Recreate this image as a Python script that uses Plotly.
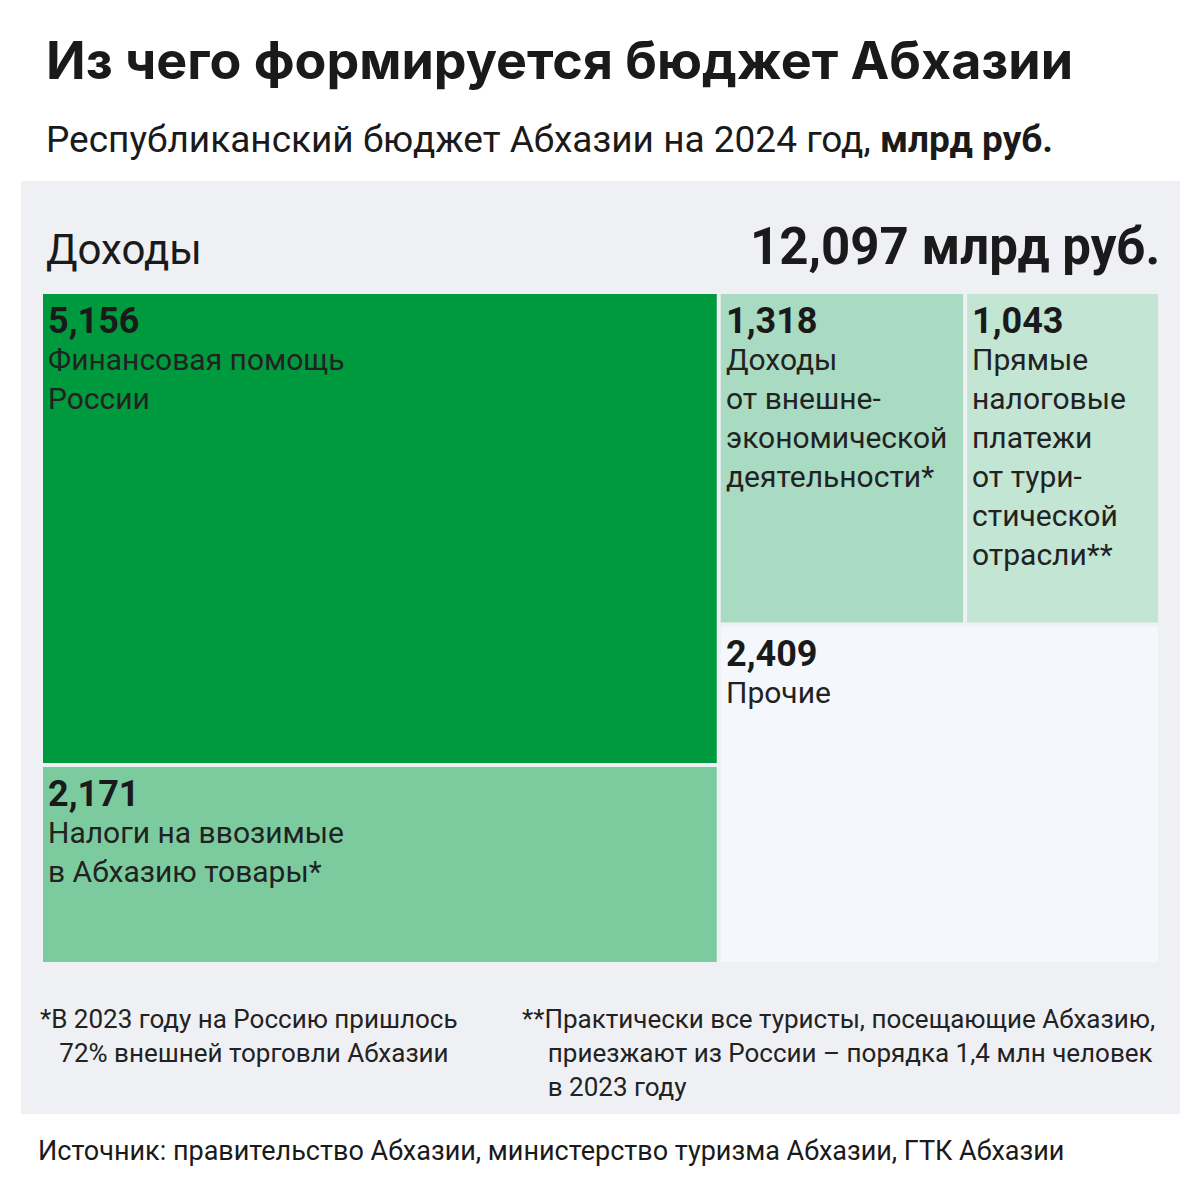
import plotly.graph_objects as go

labels = ["Финансовая помощь<br>России", "Налоги на ввозимые<br>в Абхазию товары*",
          "Доходы<br>от внешне-<br>экономической<br>деятельности*",
          "Прямые<br>налоговые<br>платежи<br>от тури-<br>стической<br>отрасли**", "Прочие"]
values = [5.156, 2.171, 1.318, 1.043, 2.409]
value_text = ["5,156", "2,171", "1,318", "1,043", "2,409"]
colors = ["#009A3E", "#7BCB9F", "#A8DBC1", "#C2E6D3", "#F4F7FB"]
total_text = "12,097 млрд руб."

F = "Roboto"
fig = go.Figure()
X0, Y0, W, H, G = 41, 292, 1119, 672, 2
total = sum(values)
left = values[0] + values[1]
wl = W * left / total
h0 = H * values[0] / left
right = values[2] + values[3] + values[4]
ht = H * (values[2] + values[3]) / right
w2 = (W - wl) * values[2] / (values[2] + values[3])
rects = [
    (X0, Y0, X0 + wl, Y0 + h0),
    (X0, Y0 + h0, X0 + wl, Y0 + H),
    (X0 + wl, Y0, X0 + wl + w2, Y0 + ht),
    (X0 + wl + w2, Y0, X0 + W, Y0 + ht),
    (X0 + wl, Y0 + ht, X0 + W, Y0 + H),
]
shapes = [dict(type="rect", xref="x", yref="y", x0=21, y0=181, x1=1180, y1=1114,
               fillcolor="#EEF0F4", line_width=0, layer="below")]
ann = []
for (a, b, c, d), col, v, lab in zip(rects, colors, value_text, labels):
    shapes.append(dict(type="rect", xref="x", yref="y", x0=a + G, y0=b + G, x1=c - G, y1=d - G,
                       fillcolor=col, line_width=0, layer="below"))
    ann.append(dict(x=a + 5, y=b + 6, text=f"<b>{v}</b>", xanchor="left", yanchor="top",
                    font=dict(family=F, size=36, color="#1a1a1a"), showarrow=False))
    ann.append(dict(x=a + 5, y=b + 48, text=lab, xanchor="left", yanchor="top", align="left",
                    font=dict(family=F, size=30, color="#222"), showarrow=False))

def t(x, y, s, size, xa="left", bold=False, color="#1a1a1a", fam=F):
    ann.append(dict(x=x, y=y, text=f"<b>{s}</b>" if bold else s, xanchor=xa, yanchor="middle",
                    align="left", font=dict(family=fam, size=size, color=color), showarrow=False))

t(44, 60, "Из чего формируется бюджет Абхазии", 52, bold=True, fam="Inter")
t(44, 139, "Республиканский бюджет Абхазии на 2024 год, <b>млрд руб.</b>", 37)
t(44, 249, "Доходы", 42)
t(1162, 246, total_text, 51, xa="right", bold=True)
ann.append(dict(x=38, y=1002, text="*В 2023 году на Россию пришлось<br>   72% внешней торговли Абхазии",
                xanchor="left", yanchor="top", align="left", showarrow=False,
                font=dict(family=F, size=26, color="#222")))
ann.append(dict(x=520, y=1002, text="**Практически все туристы, посещающие Абхазию,<br>    приезжают из России – порядка 1,4 млн человек<br>    в 2023 году",
                xanchor="left", yanchor="top", align="left", showarrow=False,
                font=dict(family=F, size=26, color="#222")))
t(36, 1151, "Источник: правительство Абхазии, министерство туризма Абхазии, ГТК Абхазии", 27)

fig.update_layout(width=1185, height=1185, margin=dict(l=0, r=0, t=0, b=0),
                  paper_bgcolor="white", plot_bgcolor="white", shapes=shapes, annotations=ann,
                  xaxis=dict(range=[8, 1193], visible=False, fixedrange=True),
                  yaxis=dict(range=[1193, 8], visible=False, fixedrange=True),
                  showlegend=False)
fig.write_html("out.html")
